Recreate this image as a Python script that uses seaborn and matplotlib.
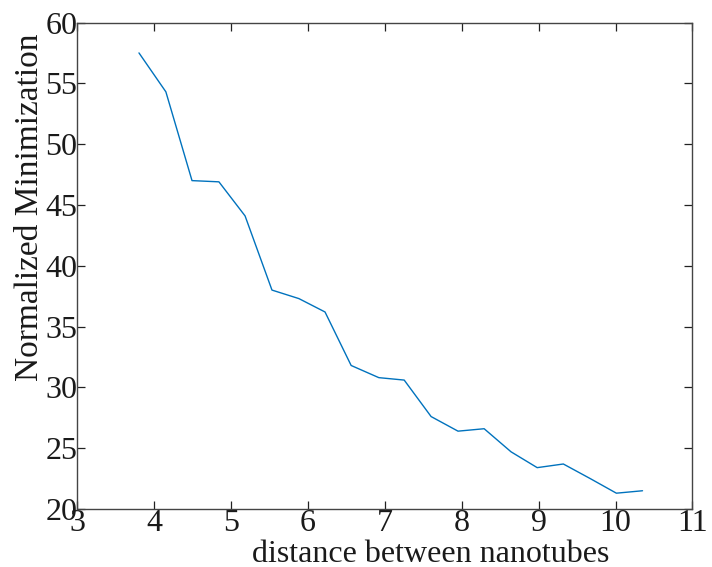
import matplotlib
matplotlib.use("Agg")
import matplotlib.pyplot as plt
import seaborn as sns
import pandas as pd

# distance between nanotubes and the normalized minimization value at each distance
distance = [3.80, 4.15, 4.49, 4.84, 5.18, 5.53, 5.88, 6.22, 6.56, 6.92,
            7.25, 7.60, 7.95, 8.29, 8.64, 8.98, 9.32, 9.67, 10.01, 10.35]
minimization = [57.5, 54.3, 47.0, 46.9, 44.1, 38.0, 37.3, 36.2, 31.8, 30.8,
                30.6, 27.6, 26.4, 26.6, 24.7, 23.4, 23.7, 22.5, 21.3, 21.5]

x_ticks = [3, 4, 5, 6, 7, 8, 9, 10, 11]
y_ticks = [20, 25, 30, 35, 40, 45, 50, 55, 60]

df = pd.DataFrame({"distance": distance, "minimization": minimization})

sns.set_theme(style="white")
plt.rcParams["font.family"] = ["Liberation Serif", "DejaVu Serif"]

fig = plt.figure(figsize=(7.12, 5.67), dpi=100)
ax = fig.add_axes([0.1088, 0.1023, 0.8638, 0.858])

sns.lineplot(data=df, x="distance", y="minimization", ax=ax,
             color="#0072BD", linewidth=1.0, sort=False)

ax.set_xlim(3, 11)
ax.set_ylim(20, 60)
ax.set_xticks(x_ticks)
ax.set_yticks(y_ticks)
ax.set_xticklabels([str(t) for t in x_ticks])
ax.set_yticklabels([str(t) for t in y_ticks])

ax.tick_params(axis="both", which="major", direction="in", length=6, width=0.9,
               color="#222222", labelsize=23, labelcolor="#1a1a1a",
               top=True, right=True, bottom=True, left=True)
ax.tick_params(axis="x", pad=0)
ax.tick_params(axis="y", pad=0.2)

for side in ["top", "right", "bottom", "left"]:
    ax.spines[side].set_visible(True)
    ax.spines[side].set_color("#444444")
    ax.spines[side].set_linewidth(1.0)

ax.set_xlabel("distance between nanotubes", fontsize=23, color="#1a1a1a")
ax.set_ylabel("Normalized Minimization", fontsize=24, color="#1a1a1a")

# label placement (axes coordinates)
ax.xaxis.label.set(ha="center", va="baseline")
ax.xaxis.set_label_coords(0.574, -0.108)
ax.yaxis.label.set(ha="center", va="center")
ax.yaxis.set_label_coords(-0.077, 0.62)

ax.grid(False)
fig.savefig("out.png", dpi=100)
